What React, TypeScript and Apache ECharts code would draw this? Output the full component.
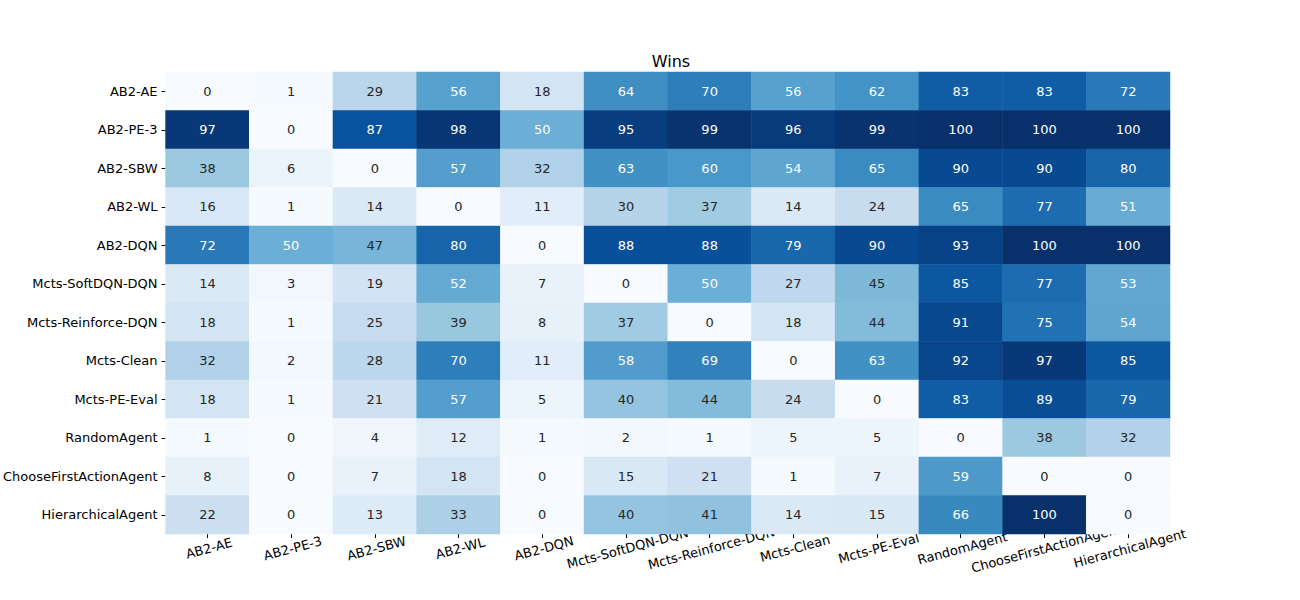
import React, { useEffect, useRef } from 'react';
import * as echarts from 'echarts';

const agents = [
  'AB2-AE', 'AB2-PE-3', 'AB2-SBW', 'AB2-WL', 'AB2-DQN', 'Mcts-SoftDQN-DQN',
  'Mcts-Reinforce-DQN', 'Mcts-Clean', 'Mcts-PE-Eval', 'RandomAgent',
  'ChooseFirstActionAgent', 'HierarchicalAgent',
];

const wins = [
  [0, 1, 29, 56, 18, 64, 70, 56, 62, 83, 83, 72],
  [97, 0, 87, 98, 50, 95, 99, 96, 99, 100, 100, 100],
  [38, 6, 0, 57, 32, 63, 60, 54, 65, 90, 90, 80],
  [16, 1, 14, 0, 11, 30, 37, 14, 24, 65, 77, 51],
  [72, 50, 47, 80, 0, 88, 88, 79, 90, 93, 100, 100],
  [14, 3, 19, 52, 7, 0, 50, 27, 45, 85, 77, 53],
  [18, 1, 25, 39, 8, 37, 0, 18, 44, 91, 75, 54],
  [32, 2, 28, 70, 11, 58, 69, 0, 63, 92, 97, 85],
  [18, 1, 21, 57, 5, 40, 44, 24, 0, 83, 89, 79],
  [1, 0, 4, 12, 1, 2, 1, 5, 5, 0, 38, 32],
  [8, 0, 7, 18, 0, 15, 21, 1, 7, 59, 0, 0],
  [22, 0, 13, 33, 0, 40, 41, 14, 15, 66, 100, 0],
];

const blues = ['#f7fbff', '#deebf7', '#c6dbef', '#9ecae1', '#6baed6', '#4292c6', '#2171b5', '#08519c', '#08306b'];

const App: React.FC = () => {
  const chartRef = useRef<HTMLDivElement | null>(null);

  useEffect(() => {
    document.body.style.margin = '0';
    if (!chartRef.current) return;
    const myChart = echarts.init(chartRef.current, null, { renderer: 'svg' });

    const data: any[] = [];
    wins.forEach((row, r) => {
      row.forEach((v, c) => {
        data.push({ value: [c, r, v], label: { color: v >= 48 ? '#ffffff' : '#262626' } });
      });
    });

    myChart.setOption({
      animation: false,
      textStyle: { fontFamily: 'DejaVu Sans' },
      title: {
        text: 'Wins',
        left: 666,
        top: 48,
        textAlign: 'center',
        textStyle: { fontSize: 16, fontWeight: 'normal', color: '#000' },
      },
      grid: { left: 163, right: 130, top: 72, bottom: 66 },
      xAxis: {
        type: 'category',
        data: agents,
        axisLine: { show: false },
        axisTick: { show: true, alignWithLabel: true, length: 4, lineStyle: { color: '#000' } },
        axisLabel: { rotate: 15, interval: 0, color: '#000', fontSize: 13, margin: 8, align: 'center', verticalAlign: 'top' },
        splitLine: { show: false },
      },
      yAxis: {
        type: 'category',
        data: agents,
        inverse: true,
        axisLine: { show: false },
        axisTick: { show: true, alignWithLabel: true, length: 4, lineStyle: { color: '#000' } },
        axisLabel: { interval: 0, color: '#000', fontSize: 13, margin: 8 },
        splitLine: { show: false },
      },
      visualMap: { show: false, min: 0, max: 100, dimension: 2, inRange: { color: blues } },
      series: [
        {
          type: 'heatmap',
          data,
          label: { show: true, fontSize: 13 },
          itemStyle: { borderWidth: 0 },
        },
      ],
    });

    return () => {
      myChart.dispose();
    };
  }, []);

  return <div ref={chartRef} style={{ width: '1300px', height: '600px' }} />;
};

export default App;
